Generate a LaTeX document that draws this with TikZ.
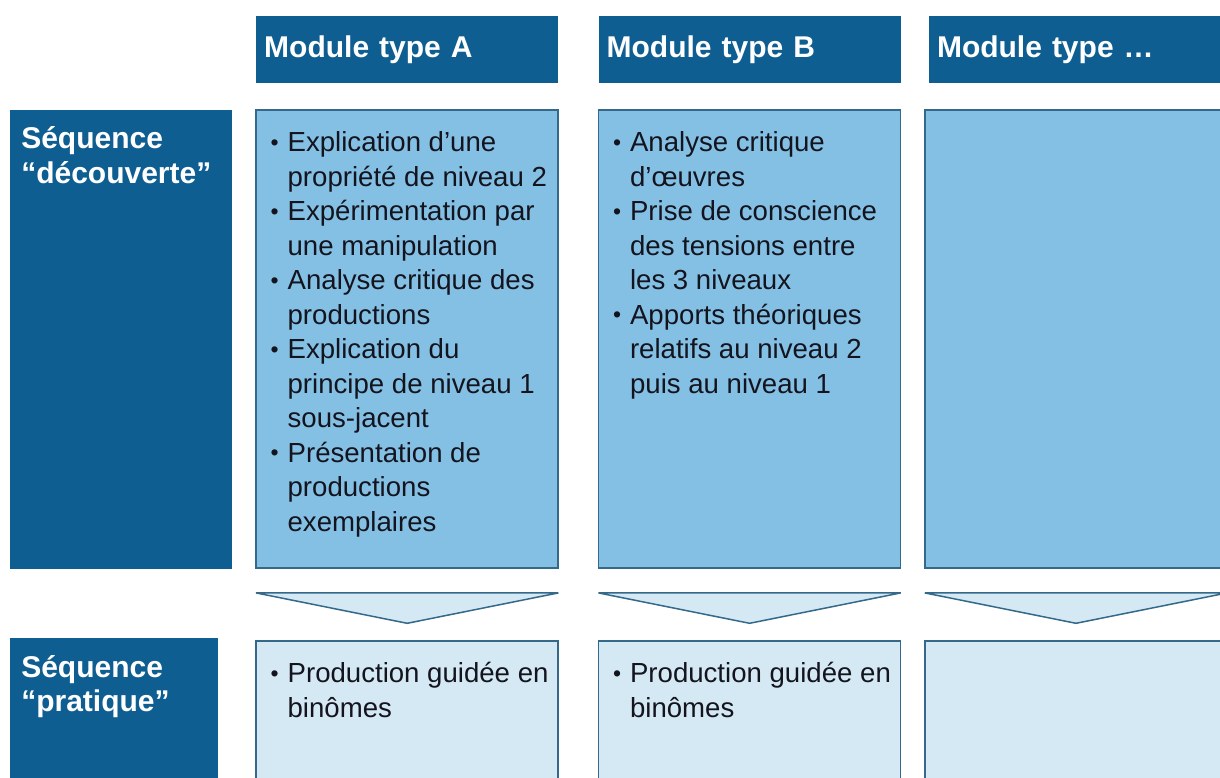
\documentclass[tikz,border=0pt]{standalone}
\usepackage{fontspec}
\setmainfont{Liberation Sans}
\usetikzlibrary{positioning}
\definecolor{modblue}{HTML}{0F5E92}
\definecolor{midblue}{HTML}{84C0E4}
\definecolor{paleblue}{HTML}{D5E9F5}
\definecolor{edgeblue}{HTML}{35698A}
\definecolor{inkdark}{HTML}{14141E}
% bullet and hanging indent for the item lists
\newcommand{\bul}{\makebox[17pt][l]{\raisebox{1.5pt}{\fontsize{23}{23}\selectfont\textbullet}}}
\newcommand{\ind}{\hspace*{17pt}}

\begin{document}
\begin{tikzpicture}[node distance=26pt,
  modhead/.style={fill=modblue, text=white, font=\fontsize{30}{34.5}\selectfont\bfseries,
    minimum height=67pt, text width=286pt, inner xsep=8pt, inner ysep=0pt, align=left},
  seqlabel/.style={fill=modblue, minimum width=222pt, inner sep=0pt},
  seqtext/.style={text=white, font=\fontsize{30}{34.5}\selectfont\bfseries,
    align=left, anchor=north west, inner xsep=11pt, inner ysep=17pt},
  discobox/.style={draw=edgeblue, line width=1.5pt, fill=midblue,
    minimum width=302pt, minimum height=458pt, inner sep=0pt},
  practbox/.style={draw=edgeblue, line width=1.5pt, fill=paleblue,
    minimum width=302pt, minimum height=160pt, inner sep=0pt},
  arrowslot/.style={minimum width=302pt, minimum height=30pt, inner sep=0pt},
  chevron/.style={draw=edgeblue, line width=1.5pt, fill=paleblue},
  itemtext/.style={text=inkdark, font=\fontsize{27.6}{34.5}\selectfont,
    align=left, anchor=north west, inner xsep=15pt, inner ysep=22pt}]
  \useasboundingbox (0,0) rectangle (1220pt,-778pt);
  \clip (0,0) rectangle (1220pt,-778pt);

  % column headers
  \node[modhead, anchor=north west] (hA) at (256pt,-16pt) {Module type A};
  \node[modhead, right=40pt of hA] (hB) {Module type B};
  \node[modhead, right=28pt of hB] (hC) {Module type \dots};

  % first sequence
  \node[discobox, below=of hA] (cA) {};
  \node[discobox, below=of hB] (cB) {};
  \node[discobox, below=of hC, xshift=-4pt] (cC) {};
  \node[seqlabel, minimum height=459pt, left=23pt of cA] (sA) {};

  % chevrons between the two sequences
  \node[arrowslot, below=24pt of cA] (aA) {};
  \node[arrowslot, below=24pt of cB] (aB) {};
  \node[arrowslot, below=24pt of cC] (aC) {};
  \draw[chevron] (aA.north west) -- (aA.north east) -- (aA.south) -- cycle;
  \draw[chevron] (aB.north west) -- (aB.north east) -- (aB.south) -- cycle;
  \draw[chevron] (aC.north west) -- (aC.north east) -- (aC.south) -- cycle;

  % second sequence
  \node[practbox, below=17pt of aA] (pA) {};
  \node[practbox, below=17pt of aB] (pB) {};
  \node[practbox, below=17pt of aC] (pC) {};
  \node[seqlabel, minimum width=208pt, minimum height=166pt, left=37pt of pA] (sB) {};

  % texts
  \node[seqtext] (tA) at (sA.north west) {Séquence\\“découverte”};
  \node[seqtext] (tB) at (sB.north west) {Séquence\\“pratique”};

  \node[itemtext] (lA) at (cA.north west) {%
    \bul Explication d’une\\
    \ind propriété de niveau 2\\
    \bul Expérimentation par\\
    \ind une manipulation\\
    \bul Analyse critique des\\
    \ind productions\\
    \bul Explication du\\
    \ind principe de niveau 1\\
    \ind sous-jacent\\
    \bul Présentation de\\
    \ind productions\\
    \ind exemplaires};
  \node[itemtext] (lB) at (cB.north west) {%
    \bul Analyse critique\\
    \ind d’œuvres\\
    \bul Prise de conscience\\
    \ind des tensions entre\\
    \ind les 3 niveaux\\
    \bul Apports théoriques\\
    \ind relatifs au niveau 2\\
    \ind puis au niveau 1};
  \node[itemtext] (qA) at (pA.north west) {\bul Production guidée en\\ \ind binômes};
  \node[itemtext] (qB) at (pB.north west) {\bul Production guidée en\\ \ind binômes};
\end{tikzpicture}
\end{document}
